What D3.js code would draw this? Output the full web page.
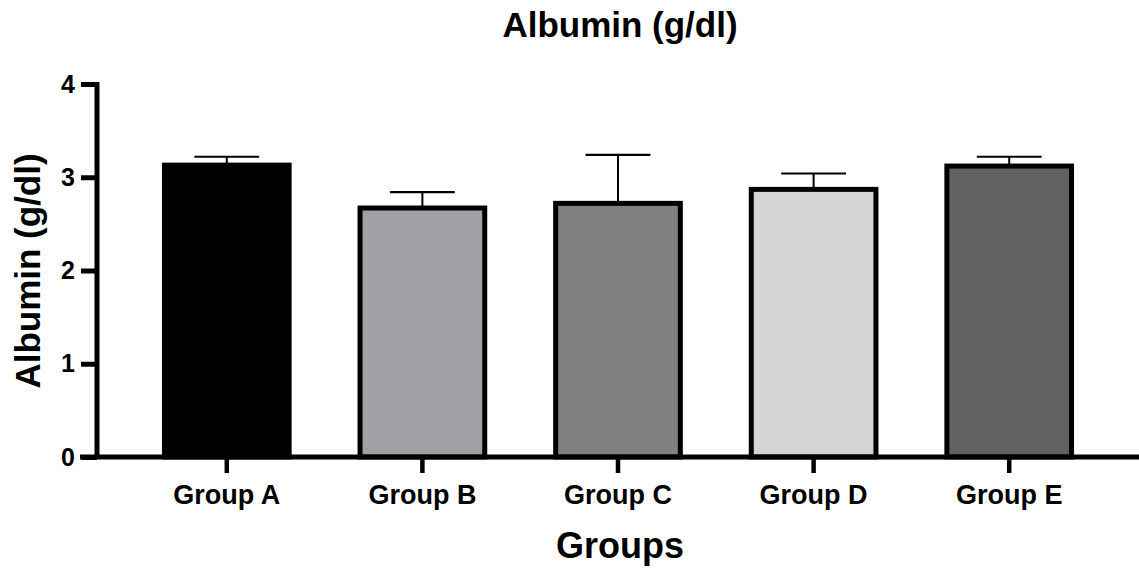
<!DOCTYPE html>
<html>
<head>
<meta charset="utf-8">
<script src="https://cdn.jsdelivr.net/npm/d3@7"></script>
<style>
html,body{margin:0;padding:0;background:#fff;}
svg{display:block;}
text{font-family:"Liberation Sans",Arial,Helvetica,sans-serif;font-weight:bold;fill:#000;}
</style>
</head>
<body>
<svg id="chart" width="1139" height="569"></svg>
<script>
const categories = ["Group A","Group B","Group C","Group D","Group E"];
const means = [3.13, 2.67, 2.72, 2.87, 3.12];
const sds = [0.09, 0.17, 0.52, 0.17, 0.10];
const colors = ["#000000","#a1a0a5","#808080","#d4d4d4","#616161"];
const yTicks = [0,1,2,3,4];

const svg = d3.select("#chart");
const x = d3.scaleBand().domain(categories).range([97,1139]).paddingInner(0.337).paddingOuter(0.332);
const y = d3.scaleLinear().domain([0,4]).range([457,84]);

// error bars (upper only)
const eg = svg.append("g");
categories.forEach((c,i)=>{
  const cx = x(c)+x.bandwidth()/2;
  eg.append("line").attr("x1",cx).attr("x2",cx).attr("y1",y(means[i])).attr("y2",y(means[i]+sds[i]))
    .attr("stroke","#000").attr("stroke-width",2);
  eg.append("line").attr("x1",cx-x.bandwidth()/4).attr("x2",cx+x.bandwidth()/4)
    .attr("y1",y(means[i]+sds[i])).attr("y2",y(means[i]+sds[i]))
    .attr("stroke","#000").attr("stroke-width",2.2);
});

// bars
svg.append("g").selectAll("rect").data(categories).join("rect")
  .attr("x",d=>x(d)+2.5)
  .attr("width",x.bandwidth()-5)
  .attr("y",(d,i)=>y(means[i]))
  .attr("height",(d,i)=>y(0)-y(means[i]))
  .attr("fill",(d,i)=>colors[i])
  .attr("stroke","#000").attr("stroke-width",5);

// y axis
const yAxis = svg.append("g").attr("transform","translate(97,0)")
  .call(d3.axisLeft(y).tickValues(yTicks).tickFormat(d3.format("d")).tickSize(16).tickPadding(6));
yAxis.select(".domain").attr("d","M0,"+(y(4)-2)+"V"+y(0)).attr("stroke","#000").attr("stroke-width",5);
yAxis.selectAll(".tick line").attr("stroke","#000").attr("stroke-width",5);
yAxis.selectAll(".tick text").attr("font-size",25).attr("font-family","Liberation Sans, Arial, sans-serif").attr("font-weight","bold").attr("fill","#000");

// x axis
const xAxis = svg.append("g").attr("transform","translate(0,"+y(0)+")")
  .call(d3.axisBottom(x).tickSize(16).tickPadding(6));
xAxis.select(".domain").attr("d","M80,0H1139").attr("stroke","#000").attr("stroke-width",5);
xAxis.selectAll(".tick line").attr("stroke","#000").attr("stroke-width",4.5);
xAxis.selectAll(".tick text").attr("font-size",27).attr("font-family","Liberation Sans, Arial, sans-serif").attr("font-weight","bold").attr("fill","#000")
  .attr("dy",null).attr("y",null).attr("transform",null)
  .attr("y",47);

// titles
svg.append("text").attr("x",620).attr("y",37).attr("text-anchor","middle").attr("font-size",35).text("Albumin (g/dl)");
svg.append("text").attr("x",620).attr("y",558).attr("text-anchor","middle").attr("font-size",36).text("Groups");
svg.append("text").attr("transform","translate(40,271) rotate(-90)").attr("text-anchor","middle").attr("font-size",35).text("Albumin (g/dl)");
</script>
</body>
</html>
